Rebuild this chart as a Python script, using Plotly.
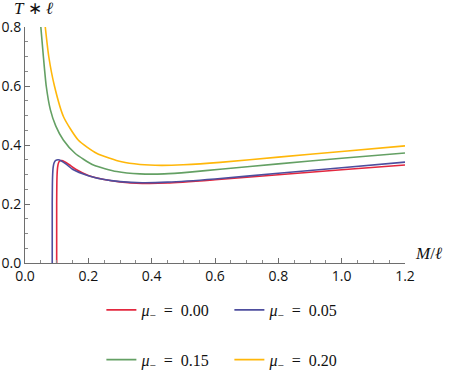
import plotly.graph_objects as go

# ---- data ----
labels = ["<i>μ</i><sub>−</sub>\u2002=\u20020.00", "<i>μ</i><sub>−</sub>\u2002=\u20020.05",
          "<i>μ</i><sub>−</sub>\u2002=\u20020.15", "<i>μ</i><sub>−</sub>\u2002=\u20020.20"]

m_000 = [0.100, 0.100, 0.101, 0.103, 0.106, 0.110, 0.116, 0.125, 0.140, 0.160, 0.200, 0.250,
         0.300, 0.370, 0.450, 0.600, 0.800, 1.000, 1.200]
t_000 = [0.000, 0.200, 0.290, 0.325, 0.340, 0.346, 0.347, 0.343, 0.333, 0.318, 0.297, 0.283,
         0.275, 0.270, 0.271, 0.282, 0.299, 0.316, 0.332]

m_005 = [0.086, 0.086, 0.087, 0.089, 0.092, 0.097, 0.105, 0.115, 0.130, 0.150, 0.200, 0.250,
         0.300, 0.370, 0.450, 0.600, 0.800, 1.000, 1.200]
t_005 = [0.000, 0.200, 0.290, 0.325, 0.340, 0.348, 0.350, 0.346, 0.335, 0.318, 0.296, 0.283,
         0.276, 0.272, 0.274, 0.285, 0.304, 0.323, 0.342]

m_015 = [0.050, 0.058, 0.067, 0.080, 0.097, 0.121, 0.158, 0.216, 0.290, 0.363, 0.440, 0.520,
         0.616, 0.800, 1.000, 1.200]
t_015 = [0.800, 0.700, 0.600, 0.520, 0.465, 0.417, 0.372, 0.332, 0.310, 0.302, 0.302, 0.308,
         0.318, 0.336, 0.355, 0.373]

m_020 = [0.064, 0.075, 0.093, 0.122, 0.168, 0.226, 0.305, 0.363, 0.430, 0.500, 0.616, 0.800,
         1.000, 1.200]
t_020 = [0.800, 0.700, 0.600, 0.495, 0.417, 0.372, 0.343, 0.334, 0.331, 0.333, 0.341, 0.359,
         0.378, 0.397]

colors = ["#e3283f", "#4e4e9e", "#64a064", "#ffb70a"]
legends = ["legend", "legend", "legend2", "legend2"]
series = [(m_000, t_000), (m_005, t_005), (m_015, t_015), (m_020, t_020)]

fig = go.Figure()
for (m, t), name, c, lg in zip(series, labels, colors, legends):
    fig.add_trace(go.Scatter(x=m, y=t, mode="lines", name=name, legend=lg,
                             line=dict(color=c, width=1.6, shape="spline", smoothing=0.6)))

axis_common = dict(showline=True, linecolor="#6e6e6e", linewidth=1, ticks="inside",
                   ticklen=5, tickcolor="#6e6e6e", showgrid=False, zeroline=False,
                   automargin=False,
                   tickfont=dict(family="Open Sans", size=14, color="#111"),
                   minor=dict(ticks="inside", ticklen=3, tickcolor="#8a8a8a", dtick=0.05))

fig.update_xaxes(range=[0, 1.2], dtick=0.2, tickformat=".1f", **axis_common)
fig.update_yaxes(range=[0, 0.8], dtick=0.2, tickformat=".1f", **axis_common)

leg_font = dict(family="Liberation Serif", size=16, color="#111")
fig.update_layout(
    width=449, height=371,
    margin=dict(l=25, r=44, t=27, b=108, autoexpand=False),
    paper_bgcolor="white", plot_bgcolor="white",
    showlegend=True,
    legend=dict(orientation="h", x=0.201, y=-0.199, xanchor="left", yanchor="middle",
                font=leg_font, entrywidth=83, bgcolor="rgba(0,0,0,0)"),
    legend2=dict(orientation="h", x=0.201, y=-0.41, xanchor="left", yanchor="middle",
                 font=leg_font, entrywidth=83, bgcolor="rgba(0,0,0,0)"),
    annotations=[
        dict(text="<i>T</i> ∗ <i>ℓ</i>", xref="paper", yref="paper", x=-0.035, y=1.0,
             xanchor="left", yanchor="bottom", yshift=7, showarrow=False,
             font=dict(family="Liberation Serif", size=17, color="#111")),
        dict(text="<i>M</i>/<i>ℓ</i>", xref="paper", yref="paper", x=1.103, y=0.0,
             xanchor="right", yanchor="bottom", yshift=-2, showarrow=False,
             font=dict(family="Liberation Serif", size=17, color="#111")),
    ],
)

fig.write_html("out.html", config={"displayModeBar": False},
               post_script="document.body.style.margin='0';document.body.style.overflow='hidden';")
